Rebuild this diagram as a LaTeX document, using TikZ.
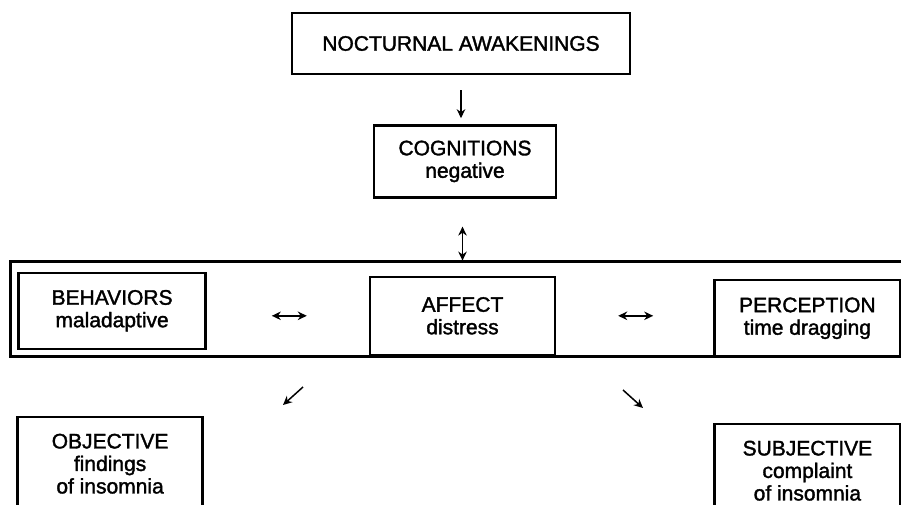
\documentclass[tikz,border=0pt]{standalone}
\usepackage{fontspec}
\setmainfont{Liberation Sans}[FakeBold=1.6]
\usetikzlibrary{arrows.meta, positioning, calc}
\tikzset{
    box/.style={rectangle, draw, line width=2.4pt, align=center, inner sep=0pt},
    arrow/.style={-{Stealth[length=9pt, width=8.5pt]}, line width=1.5pt},
    dblarrow/.style={{Stealth[length=9pt, width=8.5pt]}-{Stealth[length=9pt, width=8.5pt]}, line width=1.5pt},
    frameline/.style={draw, line width=3pt},
}

\begin{document}
\begin{tikzpicture}[x=1pt, y=-1pt, font=\fontsize{21}{22.5}\selectfont]
    \useasboundingbox (0,0) rectangle (901,504);

    % Top chain
    \node[box, minimum width=338pt, minimum height=61pt] (noct) at (461,43.5) {NOCTURNAL AWAKENINGS};
    \node[box, minimum width=182pt, minimum height=72pt, below=49pt of noct, xshift=4pt] (cogn) {COGNITIONS\\negative};

    % Middle row
    \node[box, minimum width=185pt, minimum height=78pt, below=77pt of cogn, xshift=-2.5pt] (aff) {AFFECT\\distress};
    \node[box, minimum width=187pt, minimum height=76pt, left=162pt of aff, yshift=5pt] (beh) {BEHAVIORS\\maladaptive};
    \node[box, minimum width=186pt, minimum height=77pt, right=157pt of aff, yshift=-2.5pt] (perc) {PERCEPTION\\time dragging};

    % Outer frame, cut at the right edge
    \draw[frameline] (905,261) -- (10,261) -- (10,356) -- (905,356);

    % Outcomes
    \node[box, minimum width=185pt, minimum height=93pt, below=66pt of beh, xshift=-2pt] (obj) {OBJECTIVE\\findings\\of insomnia};
    \node[box, minimum width=186pt, minimum height=93pt, below=65pt of perc] (subj) {SUBJECTIVE\\complaint\\of insomnia};

    % Free arrow ends
    \coordinate (objtail) at (303,387);
    \coordinate (objhead) at (283,405);
    \coordinate (subjtail) at (623,390);
    \coordinate (subjhead) at (643,408);

    % Arrows
    \draw[arrow, line width=1.2pt, shorten <=15pt, shorten >=6pt] (noct.south) -- (noct.south |- cogn.north);
    \draw[dblarrow, shorten <=28pt, shorten >=15pt] (cogn.south -| aff.north) -- (aff.north);
    \draw[dblarrow, shorten <=65pt, shorten >=62pt] (beh.east |- aff.west) -- (aff.west);
    \draw[dblarrow, shorten <=62pt, shorten >=60pt] (aff.east) -- (aff.east -| perc.west);
    \draw[arrow] (objtail) -- (objhead);
    \draw[arrow] (subjtail) -- (subjhead);
\end{tikzpicture}
\end{document}
